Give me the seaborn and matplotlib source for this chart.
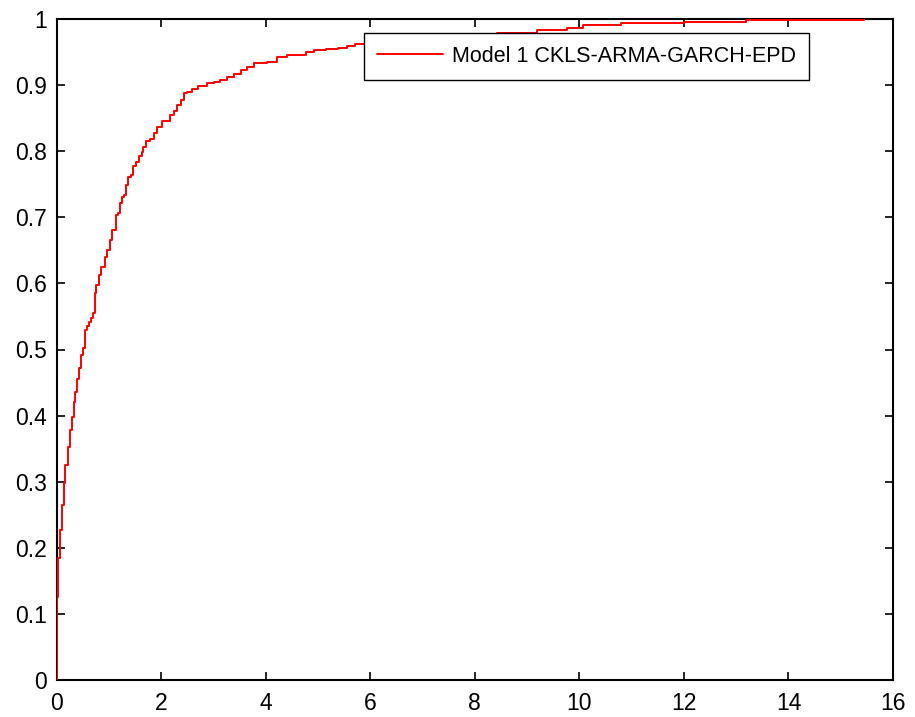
import matplotlib
matplotlib.use("Agg")
import matplotlib.pyplot as plt
import seaborn as sns
import pandas as pd

# ---- data ----
x_knots = [0.0, 0.0, 0.03, 0.07, 0.11, 0.14, 0.17, 0.22, 0.26, 0.30,
           0.33, 0.36, 0.39, 0.43, 0.47, 0.51, 0.54, 0.58, 0.62, 0.66,
           0.70, 0.73, 0.76, 0.81, 0.86, 0.92, 0.96, 1.02, 1.06, 1.14,
           1.18, 1.22, 1.25, 1.29, 1.33, 1.37, 1.42, 1.46, 1.52, 1.57,
           1.63, 1.66, 1.71, 1.79, 1.87, 1.93, 2.01, 2.12, 2.17, 2.25,
           2.30, 2.38, 2.44, 2.50, 2.59, 2.71, 2.87, 3.01, 3.13, 3.26,
           3.40, 3.52, 3.65, 3.78, 4.03, 4.22, 4.40, 4.61, 4.78, 4.93,
           5.15, 5.38, 5.55, 5.70, 6.03, 6.6, 7.2, 7.8, 8.43, 9.19,
           9.76, 10.08, 10.8, 12.0, 13.18, 15.45]
cdf_values = [0.0, 0.126, 0.184, 0.227, 0.265, 0.298, 0.325, 0.353, 0.378, 0.398,
              0.421, 0.436, 0.456, 0.472, 0.492, 0.502, 0.530, 0.535, 0.542, 0.548,
              0.555, 0.585, 0.598, 0.613, 0.625, 0.640, 0.650, 0.666, 0.681, 0.703,
              0.706, 0.721, 0.731, 0.734, 0.749, 0.761, 0.764, 0.777, 0.784, 0.793,
              0.799, 0.807, 0.815, 0.819, 0.827, 0.837, 0.845, 0.846, 0.855, 0.861,
              0.870, 0.877, 0.888, 0.889, 0.894, 0.899, 0.903, 0.904, 0.907, 0.913,
              0.917, 0.923, 0.928, 0.933, 0.935, 0.943, 0.945, 0.946, 0.950, 0.953,
              0.954, 0.956, 0.959, 0.962, 0.963, 0.967, 0.971, 0.975, 0.979, 0.983,
              0.987, 0.991, 0.994, 0.996, 0.998, 1.0]
series_label = "Model 1 CKLS-ARMA-GARCH-EPD"
x_ticks = [0, 2, 4, 6, 8, 10, 12, 14, 16]
y_ticks = [0, 0.1, 0.2, 0.3, 0.4, 0.5, 0.6, 0.7, 0.8, 0.9, 1.0]
y_tick_labels = ["0", "0.1", "0.2", "0.3", "0.4", "0.5", "0.6", "0.7", "0.8", "0.9", "1"]
x_tick_labels = [str(t) for t in x_ticks]

sns.set_theme(style="white")
plt.rcParams["font.family"] = ["Liberation Sans", "DejaVu Sans"]
plt.rcParams["text.color"] = "black"
TICK_FS = 16.5
LEG_FS = 15.5

df = pd.DataFrame({"x": x_knots, "F": cdf_values})

fig = plt.figure(figsize=(9.15, 7.17), dpi=100)
ax = fig.add_axes([56.5 / 915, 1 - 680 / 717, (893 - 56.5) / 915, (680 - 19) / 717])

sns.lineplot(data=df, x="x", y="F", ax=ax, estimator=None, sort=False,
             drawstyle="steps-post", color="red", linewidth=1.4,
             label=series_label, zorder=3)

ax.set_xlim(0, 16)
ax.set_ylim(0, 1)
ax.set_xticks(x_ticks)
ax.set_xticklabels(x_tick_labels)
ax.set_yticks(y_ticks)
ax.set_yticklabels(y_tick_labels)
ax.set_xlabel("")
ax.set_ylabel("")

for s in ax.spines.values():
    s.set_visible(True)
    s.set_color("black")
    s.set_linewidth(1.5)

ax.tick_params(axis="both", which="major", direction="in", length=6, width=1.2,
               colors="black", labelcolor="black", labelsize=TICK_FS,
               top=True, right=True, bottom=True, left=True)
ax.tick_params(axis="y", pad=6.7)
ax.tick_params(axis="x", pad=9.0)

leg = ax.legend(loc="upper right", bbox_to_anchor=(809 / 915, 1 - 32.7 / 717),
                bbox_transform=fig.transFigure, fontsize=LEG_FS, frameon=True,
                fancybox=False, shadow=False, borderpad=0.6,
                handlelength=3.1, handletextpad=0.4, borderaxespad=0)
frame = leg.get_frame()
frame.set_edgecolor("black")
frame.set_linewidth(1.0)
frame.set_facecolor("white")
frame.set_alpha(1.0)
for t in leg.get_texts():
    t.set_color("black")

fig.savefig("out.png", dpi=100)
